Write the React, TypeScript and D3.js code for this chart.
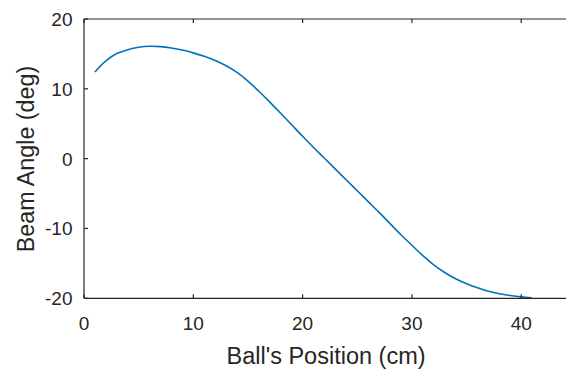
import React from "react";
import * as d3 from "d3";

const positions = [1,2,3,4,5,6,7,8,9,10,11,12,13,14,15,16,17,18,19,20,21,22,23,24,25,26,27,28,29,30,31,32,33,34,35,36,37,38,39,40,41];
const angles = [12.4,14.0,15.05,15.6,15.95,16.1,16.05,15.85,15.55,15.15,14.65,14.05,13.3,12.35,11.1,9.65,8.1,6.5,4.85,3.2,1.6,0.05,-1.5,-3.05,-4.6,-6.15,-7.7,-9.3,-10.9,-12.4,-13.9,-15.2,-16.3,-17.2,-17.9,-18.5,-19.0,-19.35,-19.6,-19.8,-19.95];
const xTicks = [0,10,20,30,40];
const yTicks = [-20,-10,0,10,20];

const W = 566, H = 371;
const left = 84, top = 19, bottom = 298.3;
const pxPerUnit = 10.93;

export default function App() {
  const x = d3.scaleLinear().domain([0, 45]).range([left, left + 45 * pxPerUnit]);
  const y = d3.scaleLinear().domain([-20, 20]).range([bottom, top]);
  const line = d3.line<number>().x((_, i) => x(positions[i])).y((d) => y(d)).curve(d3.curveCatmullRom);
  const ink = "#262626";
  const font = "'Liberation Sans', Arial, sans-serif";
  const right = x(45);
  return (
    <svg width={W} height={H} style={{ position: "absolute", left: 0, top: 0, background: "#fff" }} fontFamily={font}>
      <path d={line(angles) || ""} fill="none" stroke="#0072BD" strokeWidth={1.6} />
      <line x1={left} x2={right} y1={top} y2={top} stroke={ink} strokeWidth={1.2} />
      <line x1={left} x2={right} y1={bottom} y2={bottom} stroke={ink} strokeWidth={1.2} />
      <line x1={left} x2={left} y1={top} y2={bottom} stroke={ink} strokeWidth={1.2} />
      {xTicks.map((t) => (
        <g key={"x" + t}>
          <line x1={x(t)} x2={x(t)} y1={bottom} y2={bottom - 4} stroke={ink} strokeWidth={1.2} />
          <line x1={x(t)} x2={x(t)} y1={top} y2={top + 4} stroke={ink} strokeWidth={1.2} />
          <text x={x(t)} y={330} textAnchor="middle" fontSize={19} fill={ink}>{t}</text>
        </g>
      ))}
      {yTicks.map((t) => (
        <g key={"y" + t}>
          <line x1={left} x2={left + 4} y1={y(t)} y2={y(t)} stroke={ink} strokeWidth={1.2} />
          <text x={72.5} y={y(t) + 7} textAnchor="end" fontSize={19} fill={ink}>{t}</text>
        </g>
      ))}
      <text x={326} y={364} textAnchor="middle" fontSize={23.5} fill={ink}>Ball's Position (cm)</text>
      <text transform={`translate(33.5, ${159}) rotate(-90)`} textAnchor="middle" fontSize={23.3} fill={ink}>Beam Angle (deg)</text>
    </svg>
  );
}
